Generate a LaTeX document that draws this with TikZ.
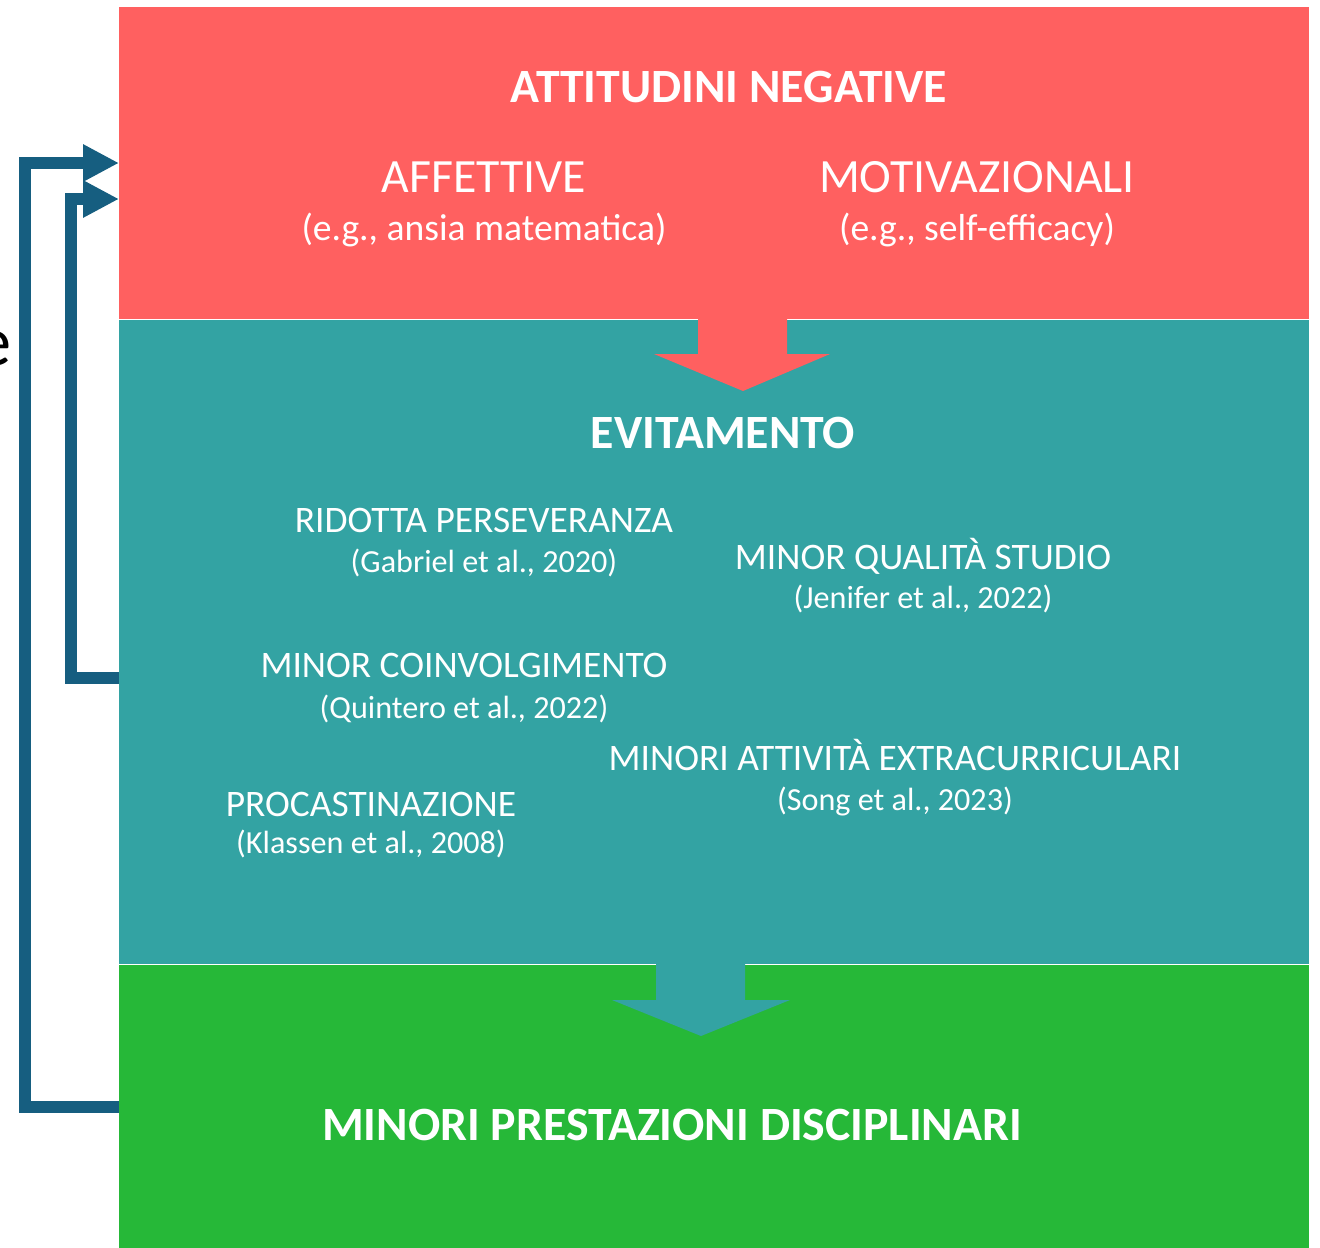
\documentclass[tikz,border=0pt]{standalone}
\usepackage{fontspec}
\setmainfont{Carlito}
\usetikzlibrary{positioning}
\usetikzlibrary{arrows.meta}
\definecolor{negred}{RGB}{255,96,96}
\definecolor{evitteal}{RGB}{51,163,163}
\definecolor{prestgreen}{RGB}{38,184,56}
\definecolor{loopblue}{RGB}{22,94,128}
\tikzset{
    band/.style = {rectangle, inner sep=0pt, anchor=north west},
    heading/.style = {text=white, anchor=base, inner sep=0pt, font=\fontsize{27.2}{32}\selectfont\bfseries},
    sub/.style = {text=white, anchor=base, inner sep=0pt, font=\fontsize{27.2}{32}\selectfont},
    example/.style = {text=white, anchor=base, inner sep=0pt, font=\fontsize{21.4}{26}\selectfont},
    item/.style = {text=white, anchor=base, inner sep=0pt, font=\fontsize{21.3}{26}\selectfont},
    cite/.style = {text=white, anchor=base, inner sep=0pt, font=\fontsize{18.3}{22}\selectfont}}

\begin{document}
\begin{tikzpicture}[x=0.02cm, y=-0.02cm,
    loopline/.style = {draw=loopblue, line width=0.24cm, line join=miter,
        -{Triangle[length=0.72cm, width=0.7cm]}}
    ]
    \clip (0,0) rectangle (1320,1248);
    \useasboundingbox (0,0) rectangle (1320,1248);
    \node[band, fill=negred, minimum width=23.8cm, minimum height=6.24cm] (neg) at (119,7) {};
    \node[band, fill=evitteal, minimum width=23.8cm, minimum height=12.88cm] (evit) at (neg.south west) {};
    \node[band, fill=prestgreen, minimum width=23.8cm, minimum height=5.7cm] (prest) at (evit.south west) {};
    \fill[negred] (698,310) -- (787,310) -- (787,354) -- (830,354) -- (743,391) -- (654,354) -- (698,354) -- cycle;
    \fill[evitteal] (656,955) -- (745,955) -- (745,1000) -- (790,1000) -- (701,1036) -- (612,1000) -- (656,1000) -- cycle;
    \node[heading] (att) at (729,102) {ATTITUDINI NEGATIVE};
    \node[sub] (aff) at (484,192) {AFFETTIVE};
    \node[example] (affex) at (484,240) {(e.g., ansia matematica)};
    \node[sub] (mot) at (977,192) {MOTIVAZIONALI};
    \node[example] (motex) at (977,240) {(e.g., self-efficacy)};
    \node[heading] (evt) at (723,448) {EVITAMENTO};
    \node[item] (rid) at (484,532) {RIDOTTA PERSEVERANZA};
    \node[cite] (ridref) at (484,572) {(Gabriel et al., 2020)};
    \node[item] (qual) at (923,569) {MINOR QUALITÀ STUDIO};
    \node[cite] (qualref) at (923,608) {(Jenifer et al., 2022)};
    \node[item] (coinv) at (464,677) {MINOR COINVOLGIMENTO};
    \node[cite] (coinvref) at (464,718) {(Quintero et al., 2022)};
    \node[item] (extra) at (895,770) {MINORI ATTIVITÀ EXTRACURRICULARI};
    \node[cite] (extraref) at (895,810) {(Song et al., 2023)};
    \node[item] (proc) at (371,816) {PROCASTINAZIONE};
    \node[cite] (procref) at (371,853) {(Klassen et al., 2008)};
    \node[heading] (perf) at (672,1140) {MINORI PRESTAZIONI DISCIPLINARI};
    \node[anchor=base east, inner sep=0pt, font=\fontsize{40}{48}\selectfont] (cut) at (12,365) {e};
    \coordinate (outstart) at (119,1107);
    \coordinate (outend) at (119,163);
    \coordinate (instart) at (119,678);
    \coordinate (inend) at (119,199);
    \draw[loopline] (outstart) -- ++(-94,0) |- (outend);
    \draw[loopline] (instart) -- ++(-48,0) |- (inend);
\end{tikzpicture}
\end{document}
